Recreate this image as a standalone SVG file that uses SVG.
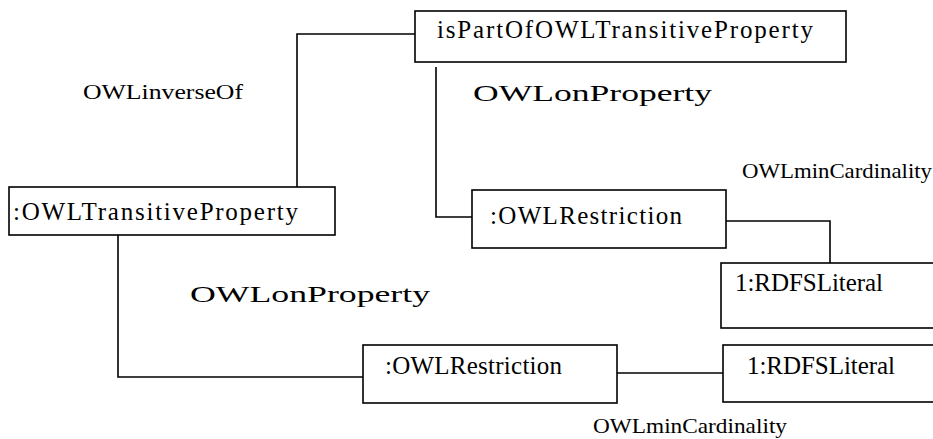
<svg xmlns="http://www.w3.org/2000/svg" width="933" height="439" viewBox="0 0 933 439">
<style>
.box{fill:#fff;stroke:#000;stroke-width:1.6}
.ln{fill:none;stroke:#000;stroke-width:1.6}
.t{font-size:24px}
.b{font-size:25px}
.s{font-size:21px}
</style>
<rect width="933" height="439" fill="#fff"/>
<g font-family="Liberation Serif, Times New Roman, Tinos, serif" fill="#000">
<g id="connectors">
<polyline class="ln" points="297,187 297,34 415,34"/>
<polyline class="ln" points="436,67 436,217 472,217"/>
<polyline class="ln" points="726,221 830,221 830,263"/>
<polyline class="ln" points="118,235 118,377 363,377"/>
<line class="ln" x1="617" y1="373" x2="723" y2="373"/>
</g>
<g id="labels">
<text class="s" x="83" y="99" textLength="160" lengthAdjust="spacingAndGlyphs">OWLinverseOf</text>
<text class="t" x="473" y="101" textLength="239" lengthAdjust="spacingAndGlyphs">OWLonProperty</text>
<text class="s" x="742" y="178" textLength="190" lengthAdjust="spacingAndGlyphs">OWLminCardinality</text>
<text class="t" x="190" y="302" textLength="240" lengthAdjust="spacingAndGlyphs">OWLonProperty</text>
<text class="s" x="593" y="433" textLength="194" lengthAdjust="spacingAndGlyphs">OWLminCardinality</text>
</g>
<g id="isPartOf">
<rect class="box" x="415" y="11" width="431" height="51"/>
<text class="b" x="437" y="38" textLength="376" lengthAdjust="spacing">isPartOfOWLTransitiveProperty</text>
</g>
<g id="transitiveProperty">
<rect class="box" x="9" y="187" width="326" height="48"/>
<text class="b" x="13" y="220" textLength="285" lengthAdjust="spacing">:OWLTransitiveProperty</text>
</g>
<g id="restriction1">
<rect class="box" x="472" y="190" width="254" height="58"/>
<text class="b" x="490" y="224" textLength="192" lengthAdjust="spacing">:OWLRestriction</text>
</g>
<g id="literal1">
<rect class="box" x="721" y="263" width="230" height="65"/>
<text class="b" x="735" y="291" textLength="148" lengthAdjust="spacing">1:RDFSLiteral</text>
</g>
<g id="restriction2">
<rect class="box" x="363" y="345" width="254" height="58"/>
<text class="b" x="385" y="374" textLength="177" lengthAdjust="spacing">:OWLRestriction</text>
</g>
<g id="literal2">
<rect class="box" x="723" y="345" width="230" height="57"/>
<text class="b" x="747" y="374" textLength="148" lengthAdjust="spacing">1:RDFSLiteral</text>
</g>
</g>
</svg>
